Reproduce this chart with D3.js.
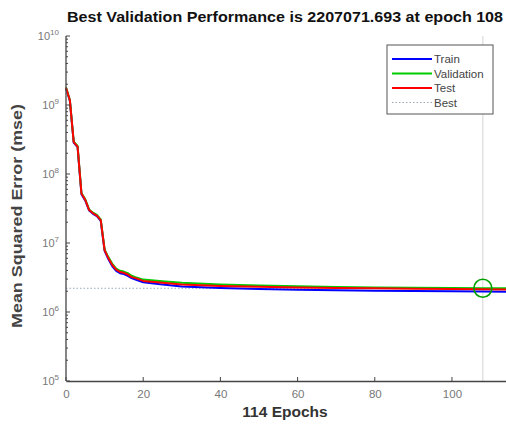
<!DOCTYPE html>
<html><head><meta charset="utf-8">
<script src="https://cdn.jsdelivr.net/npm/d3@7"></script>
<style>body{margin:0;background:#fff;} svg{display:block;}</style>
</head><body>
<svg id="c" width="506" height="427"></svg>
<script>
const epochs = [0,1,2,3,4,5,6,7,8,9,10,11,12,13,14,15,16,17,18,20,25,30,40,50,60,70,80,90,100,108,114];
const trainMse = [1.75e9,1.15e9,2.85e8,2.45e8,5.1e7,4.1e7,2.95e7,2.65e7,2.45e7,2.1e7,7.7e6,5.8e6,4.6e6,3.95e6,3.65e6,3.55e6,3.35e6,3.1e6,2.95e6,2.7e6,2.5e6,2.35e6,2.22e6,2.15e6,2.1e6,2.07e6,2.04e6,2.02e6,2.0e6,1.98e6,1.97e6];
const validationMse = [1.8e9,1.18e9,2.95e8,2.55e8,5.3e7,4.3e7,3.05e7,2.75e7,2.55e7,2.2e7,8.1e6,6.2e6,5.0e6,4.25e6,3.95e6,3.85e6,3.65e6,3.35e6,3.2e6,2.95e6,2.8e6,2.65e6,2.5e6,2.42e6,2.36e6,2.31e6,2.27e6,2.24e6,2.22e6,2.207071693e6,2.21e6];
const testMse = [1.78e9,1.17e9,2.9e8,2.5e8,5.2e7,4.2e7,3.0e7,2.7e7,2.5e7,2.15e7,7.9e6,6.0e6,4.8e6,4.1e6,3.8e6,3.7e6,3.5e6,3.2e6,3.1e6,2.82e6,2.65e6,2.5e6,2.38e6,2.32e6,2.27e6,2.23e6,2.2e6,2.17e6,2.15e6,2.13e6,2.12e6];
const bestEpoch = 108;
const bestValue = 2207071.693;
const xTicks = [0,20,40,60,80,100];
const yTickExps = [5,6,7,8,9,10];
const seriesNames = ["Train","Validation","Test","Best"];
const seriesColors = ["#0000ff","#00cc00","#ff0000","#9ab"];

const svg = d3.select("#c");
const L=66, R=506, T=36, B=381;
const x = d3.scaleLinear().domain([0,114]).range([L,R]);
const y = d3.scaleLog().domain([1e5,1e10]).range([B,T]);
const font = "'Liberation Sans', Arial, sans-serif";

// best lines
svg.append("line").attr("x1",x(bestEpoch)).attr("x2",x(bestEpoch)).attr("y1",T).attr("y2",B)
  .attr("stroke","#d4d4d4").attr("stroke-width",1);
svg.append("line").attr("x1",L).attr("x2",x(bestEpoch)).attr("y1",y(bestValue)).attr("y2",y(bestValue))
  .attr("stroke","#9ab").attr("stroke-width",1).attr("stroke-dasharray","1.5,2");

// series
const line = d3.line().x((d,i)=>x(epochs[i])).y(d=>y(d));
[[trainMse,seriesColors[0]],[validationMse,seriesColors[1]],[testMse,seriesColors[2]]].forEach(([s,c])=>{
  svg.append("path").attr("d",line(s)).attr("fill","none").attr("stroke",c).attr("stroke-width",2).attr("stroke-linejoin","round");
});

// circle
svg.append("circle").attr("cx",x(bestEpoch)).attr("cy",y(bestValue)).attr("r",9)
  .attr("fill","none").attr("stroke","#00a000").attr("stroke-width",1.6);

// axes
const axCol = "#444";
const xa = svg.append("g").attr("transform",`translate(0,${B})`)
  .call(d3.axisBottom(x).tickValues(xTicks).tickSize(0).tickPadding(9).tickFormat(d3.format("d")));
xa.select(".domain").attr("stroke",axCol).attr("stroke-width",1.3);
xa.selectAll("text").attr("font-family",font).attr("font-size",11.5).attr("fill","#777");
xTicks.forEach(t=>svg.append("line").attr("x1",x(t)).attr("x2",x(t)).attr("y1",B).attr("y2",B-4).attr("stroke",axCol));

svg.append("line").attr("x1",L).attr("x2",L).attr("y1",T).attr("y2",B).attr("stroke",axCol).attr("stroke-width",1.3);
const minor=[];
for(let e=5;e<10;e++) for(let m=1;m<10;m++) minor.push(m*Math.pow(10,e));
minor.push(1e10);
minor.forEach(v=>{
  const major = Math.abs(Math.log10(v)-Math.round(Math.log10(v)))<1e-9;
  svg.append("line").attr("x1",L).attr("x2",L+(major?4:2)).attr("y1",y(v)).attr("y2",y(v)).attr("stroke",axCol);
});
yTickExps.forEach(e=>{
  const t = svg.append("text").attr("x",L-7).attr("y",y(Math.pow(10,e))+4).attr("text-anchor","end")
    .attr("font-family",font).attr("font-size",11).attr("fill","#777");
  t.append("tspan").text("10");
  t.append("tspan").attr("dy",-5).attr("font-size",8).text(String(e));
});

// labels
svg.append("text").attr("x",285).attr("y",22).attr("text-anchor","middle").attr("font-family",font)
  .attr("font-weight","bold").attr("font-size",15).attr("fill","#111")
  .attr("textLength",436).attr("lengthAdjust","spacingAndGlyphs")
  .text("Best Validation Performance is 2207071.693 at epoch 108");
svg.append("text").attr("x",285).attr("y",417).attr("text-anchor","middle").attr("font-family",font)
  .attr("font-weight","bold").attr("font-size",15.5).attr("fill","#333").text("114 Epochs");
svg.append("text").attr("transform","translate(22,216) rotate(-90)").attr("text-anchor","middle").attr("font-family",font)
  .attr("font-weight","bold").attr("font-size",14).attr("fill","#444")
  .attr("textLength",224).attr("lengthAdjust","spacingAndGlyphs").text("Mean Squared Error  (mse)");

// legend
const lg = svg.append("g");
lg.append("rect").attr("x",387).attr("y",45).attr("width",106).attr("height",69).attr("fill","#fff").attr("stroke","#555");
seriesNames.forEach((n,i)=>{
  const yy = 59 + i*14.5;
  lg.append("line").attr("x1",392).attr("x2",432).attr("y1",yy).attr("y2",yy)
    .attr("stroke",seriesColors[i]).attr("stroke-width",i<3?2:1).attr("stroke-dasharray",i<3?null:"1.5,2");
  lg.append("text").attr("x",434).attr("y",yy+4).attr("font-family",font).attr("font-size",11.5).attr("fill","#444").text(n);
});
</script>
</body></html>
